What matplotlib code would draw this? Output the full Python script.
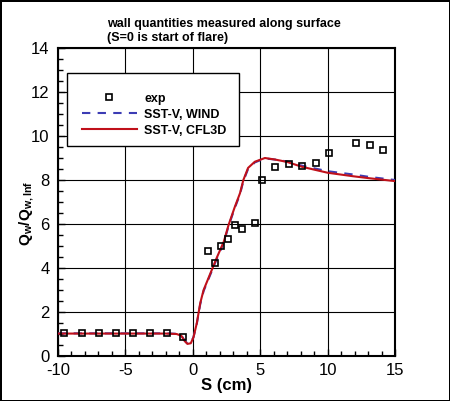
import matplotlib
matplotlib.use("Agg")
import matplotlib.pyplot as plt
from matplotlib.patches import Rectangle
from matplotlib.ticker import MultipleLocator

plt.rcParams['font.family'] = ['Liberation Sans', 'DejaVu Sans']
plt.rcParams['mathtext.fontset'] = 'custom'
plt.rcParams['mathtext.rm'] = 'Liberation Sans'
plt.rcParams['mathtext.bf'] = 'Liberation Sans:bold'
plt.rcParams['axes.unicode_minus'] = False

# experimental data (S in cm, Qw/Qw,inf)
exp_s = [-9.53, -8.24, -6.96, -5.70, -4.41, -3.18, -1.94, -0.70,
         1.10, 1.65, 2.10, 2.63, 3.13, 3.65, 4.61, 5.11,
         6.10, 7.14, 8.07, 9.14, 10.10, 12.10, 13.15, 14.09]
exp_q = [1.06, 1.06, 1.06, 1.04, 1.06, 1.04, 1.04, 0.88,
         4.79, 4.21, 5.02, 5.30, 5.95, 5.76, 6.06, 8.00,
         8.60, 8.73, 8.65, 8.79, 9.21, 9.70, 9.61, 9.36]

# SST-V, WIND
wind_s = [-10, -6, -2, -1.2, -0.85, -0.6, -0.4, -0.15, 0.05, 0.3, 0.55, 0.8,
          1.3, 1.8, 2.3, 2.65, 3.1, 3.5, 3.75, 4.1, 4.6, 5.35, 6.1, 7.0,
          8.1, 10.0, 11.9, 13.1, 15.0]
wind_q = [1.03, 1.03, 1.03, 1.01, 0.93, 0.70, 0.57, 0.60, 0.86, 1.48, 2.35, 2.95,
          3.70, 4.45, 5.15, 5.90, 6.70, 7.35, 7.95, 8.50, 8.80, 8.98, 8.93, 8.84,
          8.65, 8.40, 8.25, 8.14, 8.00]

# SST-V, CFL3D
cfl3d_s = [-10, -6, -2, -1.2, -0.85, -0.6, -0.4, -0.15, 0.05, 0.3, 0.55, 0.8,
           1.3, 1.8, 2.3, 2.65, 3.1, 3.5, 3.75, 4.1, 4.6, 5.35, 6.1, 7.0,
           8.1, 10.0, 11.9, 13.1, 15.0]
cfl3d_q = [1.02, 1.02, 1.02, 1.00, 0.92, 0.68, 0.55, 0.58, 0.85, 1.50, 2.40, 3.00,
           3.75, 4.50, 5.20, 5.95, 6.75, 7.40, 8.00, 8.55, 8.83, 9.00, 8.93, 8.82,
           8.60, 8.33, 8.17, 8.08, 7.95]

fig = plt.figure(figsize=(4.5, 4.01), dpi=100)
fig.patch.set_edgecolor('black')
fig.patch.set_linewidth(2)
ax = fig.add_axes([0.1289, 0.1122, 0.7489, 0.7681])

ax.plot(wind_s, wind_q, color='#3c3cb4', lw=1.5, dashes=(4, 3.5),
        label='SST-V, WIND', zorder=3)
ax.plot(cfl3d_s, cfl3d_q, color='#c0101a', lw=1.5, label='SST-V, CFL3D', zorder=4)
ax.plot(exp_s, exp_q, ls='none', marker='s', ms=5, mfc='none', mec='black',
        mew=1.2, label='exp', zorder=5)

ax.set_xlim(-10, 15)
ax.set_ylim(0, 14)
ax.xaxis.set_major_locator(MultipleLocator(5))
ax.xaxis.set_minor_locator(MultipleLocator(1))
ax.yaxis.set_major_locator(MultipleLocator(2))
ax.yaxis.set_minor_locator(MultipleLocator(0.5))
ax.grid(True, which='major', color='black', lw=0.8)
ax.set_axisbelow(True)
ax.tick_params(which='both', direction='in', top=False, right=False,
               labelsize=12, width=1)
ax.tick_params(which='major', length=5)
ax.tick_params(axis='x', which='major', pad=5)
ax.tick_params(axis='y', which='major', pad=6)
ax.tick_params(which='minor', length=3.5)
for sp in ax.spines.values():
    sp.set_linewidth(1.5)

ax.set_xlabel('S (cm)', fontsize=12, fontweight='bold', labelpad=0)
ax.text(-0.092, 0.464, r'Q$_{\mathbf{w}}$/Q$_{\mathbf{w,Inf}}$', transform=ax.transAxes,
        rotation=90, ha='center', va='center', fontsize=11, fontweight='bold')

fig.text(0.237, 0.940, 'wall quantities measured along surface',
         fontsize=9, fontweight='bold', va='center')
fig.text(0.237, 0.906, '(S=0 is start of flare)',
         fontsize=9, fontweight='bold', va='center')

# legend box
ax.add_patch(Rectangle((0.0276, 0.682), 0.5104, 0.236, transform=ax.transAxes,
                       facecolor='white', edgecolor='black', lw=1, zorder=6))
h, l = ax.get_legend_handles_labels()
order = [2, 0, 1]
leg = ax.legend([h[i] for i in order], [l[i] for i in order],
                loc='upper left', bbox_to_anchor=(0.070, 0.855), frameon=False,
                borderpad=0, borderaxespad=0, handlelength=4.4, handletextpad=0.6,
                labelspacing=0.32, prop={'size': 9, 'weight': 'bold'})
leg.set_zorder(7)

fig.savefig('out.png', dpi=100)
